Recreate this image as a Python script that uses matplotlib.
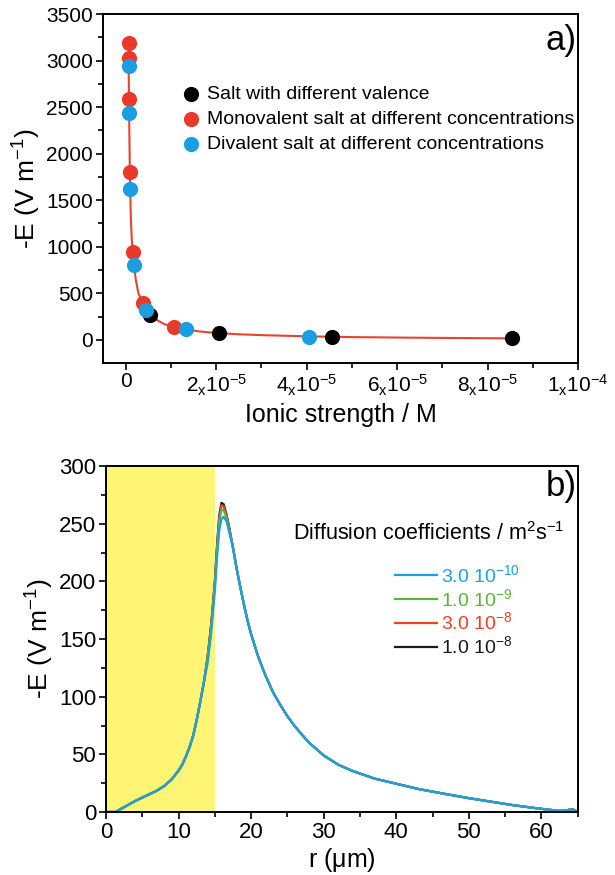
import matplotlib
matplotlib.use('Agg')
import matplotlib.pyplot as plt
from matplotlib.ticker import MultipleLocator

plt.rcParams['font.family'] = ['Liberation Sans', 'DejaVu Sans']
plt.rcParams['mathtext.fontset'] = 'custom'
plt.rcParams['mathtext.rm'] = 'Liberation Sans'
plt.rcParams['mathtext.it'] = 'Liberation Sans:italic'
plt.rcParams['mathtext.bf'] = 'Liberation Sans:bold'
plt.rcParams['mathtext.default'] = 'regular'

# ---- panel a: field vs ionic strength ----
valence_x = [5.4e-6, 2.07e-5, 4.57e-5, 8.53e-5]
valence_y = [268, 72, 29, 18]
mono_x = [0.64e-6, 0.64e-6, 0.64e-6, 0.9e-6, 1.5e-6, 3.76e-6, 1.06e-5]
mono_y = [3186, 3025, 2591, 1807, 948, 401, 143]
di_x = [0.64e-6, 0.64e-6, 0.9e-6, 1.77e-6, 4.5e-6, 1.33e-5, 4.05e-5]
di_y = [2942, 2434, 1618, 805, 322, 115, 35]
fit_x = [0.62e-6, 0.75e-6, 0.9e-6, 1.1e-6, 1.3e-6, 1.5e-6, 1.8e-6, 2.2e-6, 2.8e-6,
         3.8e-6, 4.5e-6, 5.5e-6, 7e-6, 8.5e-6, 1.06e-5, 1.33e-5, 1.6e-5, 2e-5,
         2.5e-5, 3e-5, 4e-5, 5e-5, 6e-5, 7e-5, 8.6e-5]
fit_y = [3000, 2400, 1800, 1350, 1100, 950, 800, 650, 500, 390, 330, 270, 210,
         170, 140, 112, 92, 74, 60, 51, 38, 30, 25, 21, 16]
a_xticks = [0, 2e-5, 4e-5, 6e-5, 8e-5, 1e-4]
a_xticklabels = ['0', r'$2_{x}10^{-5}$', r'$4_{x}10^{-5}$', r'$6_{x}10^{-5}$',
                 r'$8_{x}10^{-5}$', r'$1_{x}10^{-4}$']

# ---- panel b: field profiles for several diffusion coefficients ----
r_left = [0, 1.3, 2, 3, 4, 5, 6, 7, 8, 9, 10, 10.5, 11, 11.5, 12, 12.5, 13, 13.5]
e_left = [0, 0, 2.5, 6, 9.5, 12.5, 15.5, 18.5, 22.5, 28, 36, 41, 48, 56, 66, 80,
          96, 113]
r_peak = [14, 14.5, 15, 15.3, 15.6, 15.9, 16.2, 16.6, 17]
peak_black = [135, 163, 200, 232, 257, 268, 267, 258, 246]
peak_red = [134, 163, 199, 230, 255, 266, 265, 257, 245]
peak_green = [133, 161, 197, 227, 251, 262, 262, 255, 244]
peak_blue = [129, 156, 192, 221, 244, 254, 256, 252, 242]
r_right = [17.5, 18, 18.5, 19, 19.5, 20, 21, 22, 23, 24, 25, 26, 27, 28, 30, 32,
           34, 37, 40, 43, 46, 50, 53, 56, 59, 61, 62.5, 63.5, 64.2, 64.7, 65]
e_right = [229, 211, 195, 180, 166, 154, 134, 118, 104, 93, 83, 74.5, 67, 60,
           49, 41, 35.5, 29, 24.5, 20, 16.5, 12, 9, 6, 3.5, 2, 1.0, 1.5, 2.5,
           1.2, 0]
d_labels = [r'3.0 10$^{-10}$', r'1.0 10$^{-9}$', r'3.0 10$^{-8}$', r'1.0 10$^{-8}$']
d_colors = ['#1ba1e2', '#5cb33a', '#e8402a', '#1a1a1a']

fig = plt.figure(figsize=(6.15, 8.75), dpi=100)


def style_axes(ax, tick_size):
    for s in ax.spines.values():
        s.set_linewidth(1.4)
    ax.tick_params(which='both', direction='out', top=False, right=False,
                   width=1.2, labelsize=tick_size, pad=2)
    ax.tick_params(which='major', length=5)
    ax.tick_params(which='minor', length=3.5)


# panel a
ax1 = fig.add_axes([0.167, 0.5855, 0.773, 0.3985])
ax1.plot(fit_x, fit_y, color='#e8432f', lw=1.5, zorder=2)
h1 = ax1.scatter(valence_x, valence_y, s=120, color='black', lw=0, zorder=3,
                 label='Salt with different valence')
h2 = ax1.scatter(mono_x, mono_y, s=120, color='#e83a2b', lw=0, zorder=4,
                 label='Monovalent salt at different concentrations')
h3 = ax1.scatter(di_x, di_y, s=120, color='#1b9de2', lw=0, zorder=5,
                 label='Divalent salt at different concentrations')
ax1.set_xlim(-5.1e-6, 1e-4)
ax1.set_ylim(-245, 3500)
ax1.set_xticks(a_xticks)
ax1.set_xticklabels(a_xticklabels)
ax1.xaxis.set_minor_locator(MultipleLocator(1e-5))
ax1.yaxis.set_major_locator(MultipleLocator(500))
ax1.yaxis.set_minor_locator(MultipleLocator(250))
style_axes(ax1, 15)
ax1.set_xlabel('Ionic strength / M', fontsize=18, labelpad=4)
ax1.set_ylabel(r'-E (V m$^{-1}$)', fontsize=19, labelpad=2)
ax1.legend(handles=[h1, h2, h3], loc='upper left', bbox_to_anchor=(0.169, 0.795),
           frameon=False, fontsize=14, borderpad=0, borderaxespad=0,
           handlelength=0.8, handletextpad=0.42, labelspacing=0.38)
ax1.text(0.997, 0.925, 'a)', transform=ax1.transAxes, ha='right', va='center',
         fontsize=25)

# panel b
ax2 = fig.add_axes([0.1724, 0.072, 0.767, 0.3954])
ax2.axvspan(0, 15, color='#fff574', lw=0, zorder=0)
r = r_left + r_peak + r_right
lines = []
for peak, c in zip([peak_black, peak_red, peak_green, peak_blue], d_colors[::-1]):
    ln, = ax2.plot(r, e_left + peak + e_right, color=c, lw=1.6, zorder=2)
    lines.append(ln)
ax2.set_xlim(0, 65)
ax2.set_ylim(0, 300)
ax2.xaxis.set_major_locator(MultipleLocator(10))
ax2.xaxis.set_minor_locator(MultipleLocator(5))
ax2.yaxis.set_major_locator(MultipleLocator(50))
ax2.yaxis.set_minor_locator(MultipleLocator(25))
style_axes(ax2, 16)
ax2.set_xlabel(r'r ($\mu$m)', fontsize=18, labelpad=2)
ax2.set_ylabel(r'-E (V m$^{-1}$)', fontsize=19, labelpad=2)
ax2.legend(handles=lines[::-1], labels=d_labels, loc='upper left',
           bbox_to_anchor=(0.612, 0.717), frameon=False, fontsize=14,
           borderpad=0, borderaxespad=0, handlelength=2.2, handletextpad=0.2,
           labelspacing=0.1, labelcolor='linecolor')
ax2.text(0.396, 0.806, r'Diffusion coefficients / m$^2$s$^{-1}$',
         transform=ax2.transAxes, ha='left', va='center', fontsize=15.5)
ax2.text(0.997, 0.942, 'b)', transform=ax2.transAxes, ha='right', va='center',
         fontsize=25)

fig.savefig('out.png', dpi=100)
